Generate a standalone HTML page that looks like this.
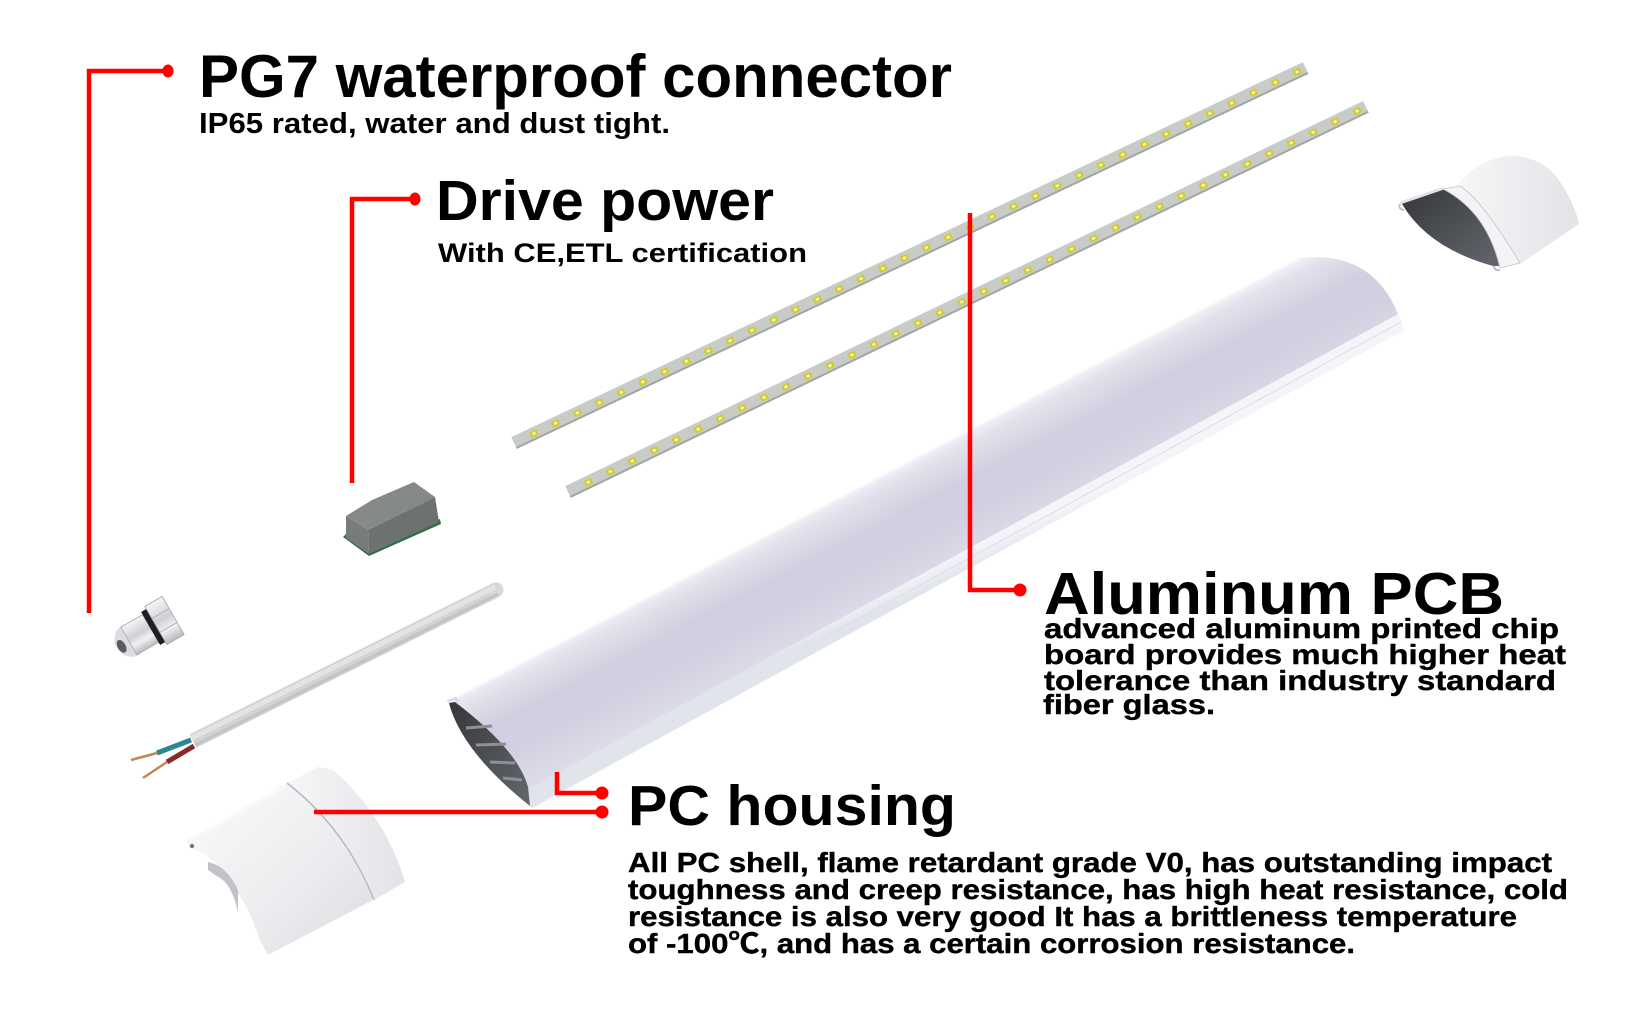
<!DOCTYPE html>
<html><head><meta charset="utf-8">
<style>
html,body{margin:0;padding:0;background:#fff;}
svg{display:block;}
text{font-family:"Liberation Sans","Noto Sans CJK SC",sans-serif;font-weight:bold;fill:#000;}
</style></head>
<body>
<svg width="1650" height="1018" viewBox="0 0 1650 1018" xmlns="http://www.w3.org/2000/svg">
<defs>
  <linearGradient id="tubeG" gradientUnits="userSpaceOnUse" x1="800" y1="520" x2="858" y2="632">
    <stop offset="0" stop-color="#efeef5"/>
    <stop offset="0.08" stop-color="#e2e1eb"/>
    <stop offset="0.35" stop-color="#d0cedf"/>
    <stop offset="0.6" stop-color="#d3d1e1"/>
    <stop offset="0.85" stop-color="#dbdae7"/>
    <stop offset="1" stop-color="#e3e2ed"/>
  </linearGradient>
  <linearGradient id="bandG" gradientUnits="userSpaceOnUse" x1="900" y1="580" x2="908" y2="598">
    <stop offset="0" stop-color="#f4f5f9"/>
    <stop offset="0.5" stop-color="#eceef4"/>
    <stop offset="1" stop-color="#e2e4eb"/>
  </linearGradient>
  <linearGradient id="darkG" x1="0" y1="0" x2="1" y2="1">
    <stop offset="0" stop-color="#35373b"/>
    <stop offset="1" stop-color="#64676d"/>
  </linearGradient>
  <linearGradient id="capG" x1="0" y1="0" x2="1" y2="1">
    <stop offset="0" stop-color="#fbfbfc"/>
    <stop offset="0.6" stop-color="#ececef"/>
    <stop offset="1" stop-color="#dcdce0"/>
  </linearGradient>
  <linearGradient id="capG2" x1="0" y1="0" x2="1" y2="0">
    <stop offset="0" stop-color="#f7f7f9"/>
    <stop offset="1" stop-color="#e3e3e7"/>
  </linearGradient>
  <linearGradient id="silver" x1="0" y1="0" x2="0" y2="1">
    <stop offset="0" stop-color="#f6f6f8"/>
    <stop offset="0.45" stop-color="#cfd0d4"/>
    <stop offset="0.7" stop-color="#f2f2f4"/>
    <stop offset="1" stop-color="#b9babf"/>
  </linearGradient>
  <pattern id="led1" patternUnits="userSpaceOnUse" x="10" y="-3.5" width="24.13" height="7">
    <rect x="8" y="0.5" width="8" height="6" fill="#d0cc2c"/>
    <rect x="10.3" y="2.2" width="3.4" height="2.6" fill="#f5f3c0"/>
  </pattern>
  <pattern id="led2" patternUnits="userSpaceOnUse" x="10.4" y="-3.5" width="24.39" height="7">
    <rect x="8.2" y="0.5" width="8" height="6" fill="#d0cc2c"/>
    <rect x="10.5" y="2.2" width="3.4" height="2.6" fill="#f5f3c0"/>
  </pattern>
</defs>

<!-- LED strip 1 -->
<g transform="translate(514,443) rotate(-25.35)">
  <rect x="0" y="-6.5" width="876" height="13" fill="#c8ccc9"/>
  <rect x="0" y="4.5" width="876" height="2" fill="#a3a7a4"/>
  <rect x="10" y="-3.5" width="862" height="7" fill="url(#led1)"/>
</g>
<!-- LED strip 2 -->
<g transform="translate(568,492) rotate(-25.77)">
  <rect x="0" y="-6.5" width="886" height="13" fill="#c8ccc9"/>
  <rect x="0" y="4.5" width="886" height="2" fill="#a3a7a4"/>
  <rect x="10.4" y="-3.5" width="870" height="7" fill="url(#led2)"/>
</g>

<!-- Tube (PC housing) -->
<path d="M448,702 L1300,258 Q1372,250 1398,314 L1404,330 L532,808 Q462,752 448,702 Z" fill="url(#tubeG)"/>
<path d="M452,700 L1300,259" stroke="#f6f6fa" stroke-width="2" fill="none"/>
<path d="M460,708 L1302,268" stroke="#e6e5ee" stroke-width="1.5" fill="none"/>
<path d="M530,788 L1398,314 L1404,330 L532,808 Z" fill="url(#bandG)"/>
<path d="M531,798 L1401,322" stroke="#dcdee6" stroke-width="1" fill="none"/>
<!-- open end interior -->
<path d="M449,703 Q462,752 530,806 L528,787 Q518,750 455,702 Z" fill="url(#darkG)"/>
<path d="M466,728 L492,726 M476,745 L506,744 M490,762 L515,763 M503,778 L522,780" stroke="#8d9096" stroke-width="3" fill="none"/>
<path d="M447,701 L456,698 L458,704" stroke="#d8d8de" stroke-width="2" fill="none"/>

<!-- Right end cap -->
<path d="M1457,185 Q1480,158 1510,156 Q1545,156 1562,185 Q1575,205 1579,224 L1520,264 L1500,258 Q1488,212 1460,187 Z" fill="url(#capG2)"/>
<path d="M1402,201 L1443,189 Q1487,212 1500,266 L1493,266 Q1428,248 1402,204 Z" fill="url(#darkG)"/>
<path d="M1443,189 L1460,186 Q1482,200 1520,263 L1500,268 Q1487,212 1443,189 Z" fill="#f4f4f6" stroke="#c6c6cb" stroke-width="0.8"/>
<path d="M1400,203 L1444,188" stroke="#e2e2e6" stroke-width="3" fill="none"/>
<path d="M1400,204 q-2,5 4,6" stroke="#bdbdc2" stroke-width="2" fill="none"/>
<path d="M1494,266 q0,5 6,4" stroke="#bdbdc2" stroke-width="2" fill="none"/>

<!-- Drive power box -->
<polygon points="343,537 369,556 441,524 440,519 369,551 346,534" fill="#2f6e43"/>
<polygon points="346,516 368,530 369,554 346,538" fill="#777b7a"/>
<polygon points="368,530 435,497 439,522 369,554" fill="#6d7170"/>
<polygon points="346,516 372,500 414,482 435,497 368,530" fill="#858988"/>

<!-- Cable wires -->
<path d="M191,740 L157,753" stroke="#2a8795" stroke-width="5" fill="none"/>
<path d="M157,753 L131,760" stroke="#c58655" stroke-width="2.5" fill="none"/>
<path d="M194,746 L167,762" stroke="#862a2a" stroke-width="5" fill="none"/>
<path d="M167,762 L143,778" stroke="#c58655" stroke-width="2.5" fill="none"/>
<!-- Cable -->
<line x1="193" y1="741" x2="496" y2="590" stroke="#d3d3d3" stroke-width="15"/>
<circle cx="496" cy="590" r="7.5" fill="#d8d8d8"/>
<line x1="192" y1="738" x2="495" y2="587" stroke="#e3e3e3" stroke-width="5"/>
<line x1="195" y1="745" x2="498" y2="594" stroke="#c3c3c3" stroke-width="3"/>

<!-- PG7 gland -->
<g transform="rotate(-30,148,630)">
  <ellipse cx="128" cy="630" rx="16" ry="17" fill="#dcdde1"/>
  <ellipse cx="117" cy="631" rx="4" ry="7" fill="#5a5b60"/>
  <rect x="126" y="614" width="25" height="32" fill="url(#silver)" stroke="#a9aab0" stroke-width="0.8"/>
  <rect x="151" y="611" width="6" height="38" fill="#1f1f21"/>
  <rect x="157" y="608" width="20" height="44" fill="url(#silver)" stroke="#a0a1a6" stroke-width="0.8"/>
  <line x1="157" y1="622" x2="177" y2="622" stroke="#b0b1b6" stroke-width="1"/>
  <line x1="157" y1="638" x2="177" y2="638" stroke="#b0b1b6" stroke-width="1"/>
</g>

<!-- Left end cap -->
<path d="M187,840 L287,783 Q343,828 373,900 L268,955 Q262,945 258,935 Q248,905 235,890 Q220,862 200,852 L190,848 Z" fill="url(#capG)"/>
<path d="M208,862 Q227,866 238,890 L238,912 Q232,885 220,878 Q212,873 208,870 Z" fill="#c2c2c7"/>
<path d="M190,840 L286,786" stroke="#fafafb" stroke-width="3" fill="none"/>
<circle cx="192" cy="846" r="2.2" fill="#777"/>
<path d="M287,783 L318,767 L332,769 Q385,815 405,882 L374,900 Q345,828 287,783 Z" fill="url(#capG2)"/>
<path d="M287,783 Q345,828 374,900" stroke="#b9b9be" stroke-width="1.6" fill="none"/>

<!-- Red leader lines -->
<g stroke="#ff0000" stroke-width="4.5" fill="none">
  <polyline points="89,613 89,71 168,71"/>
  <polyline points="352,483 352,199 414,199"/>
  <polyline points="970,213 970,590 1020,590"/>
  <polyline points="557,772 557,793 602,793"/>
  <line x1="314" y1="812" x2="602" y2="812"/>
</g>
<g fill="#ff0000">
  <ellipse cx="168" cy="71" rx="5.5" ry="6.5"/>
  <ellipse cx="415" cy="199" rx="5.5" ry="6.5"/>
  <circle cx="1020" cy="590" r="6.5"/>
  <circle cx="602" cy="793" r="6.5"/>
  <circle cx="602" cy="812" r="6.5"/>
</g>

<!-- Texts -->
<text x="199" y="97" font-size="60" textLength="753" lengthAdjust="spacingAndGlyphs">PG7 waterproof connector</text>
<text x="199" y="133" font-size="29" textLength="471" lengthAdjust="spacingAndGlyphs">IP65 rated, water and dust tight.</text>
<text x="436" y="220" font-size="57" textLength="338" lengthAdjust="spacingAndGlyphs">Drive power</text>
<text x="438" y="262" font-size="27" textLength="369" lengthAdjust="spacingAndGlyphs">With CE,ETL certification</text>

<text x="1044" y="614" font-size="59" textLength="460" lengthAdjust="spacingAndGlyphs">Aluminum PCB</text>
<g font-size="28" stroke="#000" stroke-width="0.4">
<text x="1044" y="638" textLength="515" lengthAdjust="spacingAndGlyphs">advanced aluminum printed chip</text>
<text x="1044" y="664" textLength="522" lengthAdjust="spacingAndGlyphs">board provides much higher heat</text>
<text x="1044" y="690" textLength="512" lengthAdjust="spacingAndGlyphs">tolerance than industry standard</text>
<text x="1043" y="714" textLength="172" lengthAdjust="spacingAndGlyphs">fiber glass.</text>
</g>

<text x="628" y="825" font-size="57" textLength="328" lengthAdjust="spacingAndGlyphs">PC housing</text>
<g font-size="28" stroke="#000" stroke-width="0.4">
<text x="628" y="872" textLength="924" lengthAdjust="spacingAndGlyphs">All PC shell, flame retardant grade V0, has outstanding impact</text>
<text x="628" y="899" textLength="940" lengthAdjust="spacingAndGlyphs">toughness and creep resistance, has high heat resistance, cold</text>
<text x="628" y="926" textLength="889" lengthAdjust="spacingAndGlyphs">resistance is also very good It has a brittleness temperature</text>
<text x="628" y="953" textLength="727" lengthAdjust="spacingAndGlyphs">of -100℃, and has a certain corrosion resistance.</text>
</g>
</svg>
</body></html>
